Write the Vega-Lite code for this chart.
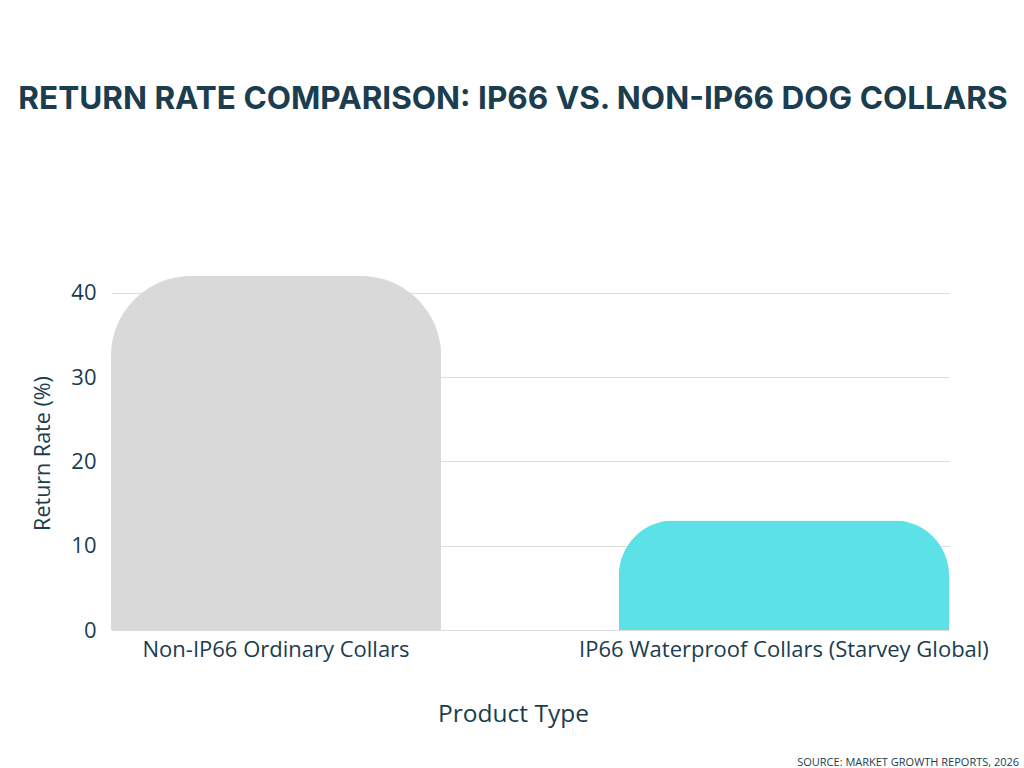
{
  "$schema": "https://vega.github.io/schema/vega-lite/v6.json",
  "background": "white",
  "padding": {"left": 17, "top": 83, "right": 6, "bottom": 4},
  "autosize": {"type": "pad"},
  "config": {"view": {"stroke": null}, "font": "Open Sans"},
  "title": {
    "text": "SOURCE: MARKET GROWTH REPORTS, 2026",
    "orient": "bottom",
    "anchor": "end",
    "frame": "bounds",
    "fontSize": 11,
    "fontWeight": "normal",
    "font": "Open Sans",
    "color": "#1b3d50",
    "offset": 31,
    "dx": 11
  },
  "vconcat": [
    {
      "width": 838,
      "height": 354,
      "title": {
        "text": "RETURN RATE COMPARISON: IP66 VS. NON-IP66 DOG COLLARS",
        "fontSize": 31.5,
        "font": "Inter",
        "fontWeight": 700,
        "color": "#1b3d50",
        "anchor": "middle",
        "offset": 161,
        "dx": -17
      },
      "data": {
        "values": [
          {"product": "Non-IP66 Ordinary Collars", "rate": 42},
          {"product": "IP66 Waterproof Collars (Starvey Global)", "rate": 13}
        ]
      },
      "mark": {"type": "bar", "cornerRadiusTopLeft": 80, "cornerRadiusTopRight": 80},
      "encoding": {
        "x": {
          "field": "product",
          "type": "nominal",
          "sort": null,
          "scale": {"paddingInner": 0.35, "paddingOuter": 0},
          "axis": {
            "title": "Product Type",
            "labelAngle": 0,
            "labelFontSize": 22,
            "labelLimit": 0,
            "labelColor": "#1b3d50",
            "labelPadding": 9,
            "ticks": false,
            "domain": false,
            "titleFontSize": 24.5,
            "titleFontWeight": 500,
            "titleColor": "#1b3d50",
            "titlePadding": 42,
            "titleX": 402
          }
        },
        "y": {
          "field": "rate",
          "type": "quantitative",
          "scale": {"domain": [0, 42], "nice": false},
          "axis": {
            "title": "Return Rate (%)",
            "values": [0, 10, 20, 30, 40],
            "labelFontSize": 22,
            "labelColor": "#1b3d50",
            "labelPadding": 15,
            "ticks": false,
            "domain": false,
            "gridColor": "#dddddd",
            "titleFontSize": 21.5,
            "titleFontWeight": "normal",
            "titleColor": "#1b3d50",
            "titlePadding": 16
          }
        },
        "color": {
          "field": "product",
          "type": "nominal",
          "scale": {
            "domain": ["Non-IP66 Ordinary Collars", "IP66 Waterproof Collars (Starvey Global)"],
            "range": ["#d9d9d9", "#5ce1e6"]
          },
          "legend": null
        }
      }
    }
  ]
}
